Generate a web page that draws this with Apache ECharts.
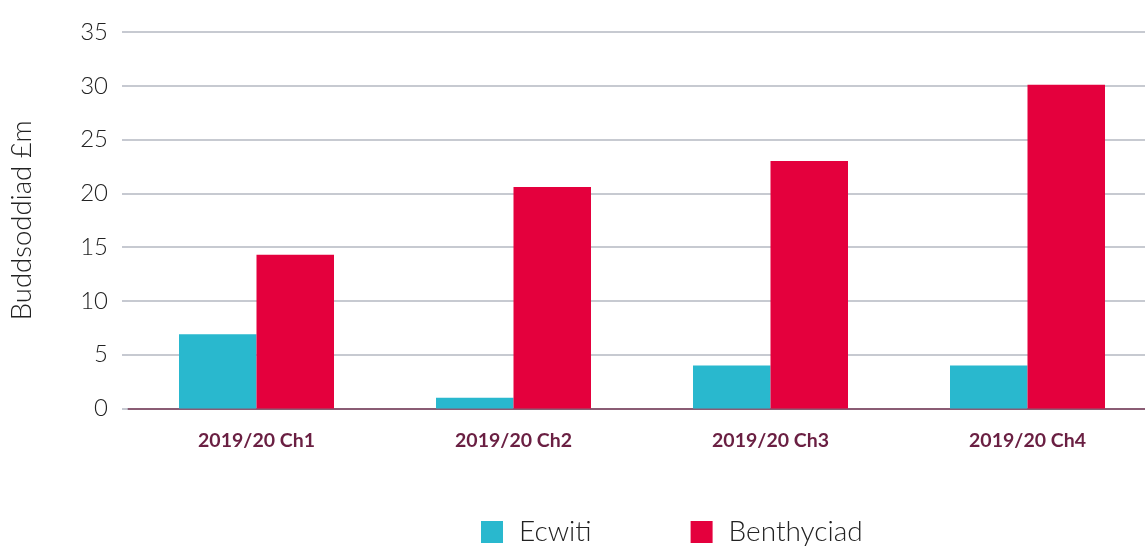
<!DOCTYPE html>
<html>
<head>
<meta charset="utf-8">
<script src="https://cdn.jsdelivr.net/npm/echarts@6/dist/echarts.min.js"></script>
<style>
html,body{margin:0;padding:0;background:#fff;overflow:hidden;}
#chart{width:1160px;height:546px;}
</style>
</head>
<body>
<div id="chart"></div>
<script>
// categories and values
var categories = ['2019/20 Ch1', '2019/20 Ch2', '2019/20 Ch3', '2019/20 Ch4'];
var ecwiti = [6.9, 1.0, 4.0, 4.0];
var benthyciad = [14.3, 20.6, 23.0, 30.1];
var seriesNames = ['Ecwiti', 'Benthyciad'];

var chart = echarts.init(document.getElementById('chart'));
var option = {
    animation: false,
    grid: {
        left: 128,
        top: 32,
        width: 1028,
        height: 376.5
    },
    legend: {
        data: seriesNames,
        left: 476,
        top: 513,
        itemWidth: 22,
        itemHeight: 22,
        itemGap: 99,
        icon: 'rect',
        textStyle: {
            fontFamily: 'Lato',
            fontWeight: 300,
            fontSize: 28,
            color: '#222',
            padding: [0, 0, 0, 11]
        }
    },
    xAxis: {
        type: 'category',
        data: categories,
        axisTick: {show: false},
        axisLine: {
            show: true,
            lineStyle: {color: '#8a5c74', width: 2}
        },
        axisLabel: {
            margin: 22,
            fontFamily: 'Lato',
            fontWeight: 'bold',
            fontSize: 19.5,
            color: '#6a1f42'
        }
    },
    yAxis: {
        type: 'value',
        min: 0,
        max: 35,
        interval: 5,
        name: 'Buddsoddiad £m',
        nameLocation: 'middle',
        nameGap: 92,
        nameTextStyle: {
            fontFamily: 'Lato',
            fontWeight: 300,
            fontSize: 27.5,
            color: '#222'
        },
        axisLine: {show: false},
        //刻度线让网格线往左多伸出一点
        axisTick: {
            show: true,
            length: 6,
            lineStyle: {color: '#b4b8c2', width: 1.5}
        },
        axisLabel: {
            margin: 20,
            fontFamily: 'Lato',
            fontWeight: 300,
            fontSize: 24,
            color: '#222'
        },
        splitLine: {
            lineStyle: {color: '#b4b8c2', width: 1.5}
        }
    },
    series: [
        {
            name: seriesNames[0],
            type: 'bar',
            data: ecwiti,
            barWidth: 77.5,
            barGap: '0%',
            itemStyle: {color: '#29b8ce'}
        },
        {
            name: seriesNames[1],
            type: 'bar',
            data: benthyciad,
            barWidth: 77.5,
            barGap: '0%',
            itemStyle: {color: '#e4003d'}
        }
    ]
};
chart.setOption(option);
</script>
</body>
</html>
